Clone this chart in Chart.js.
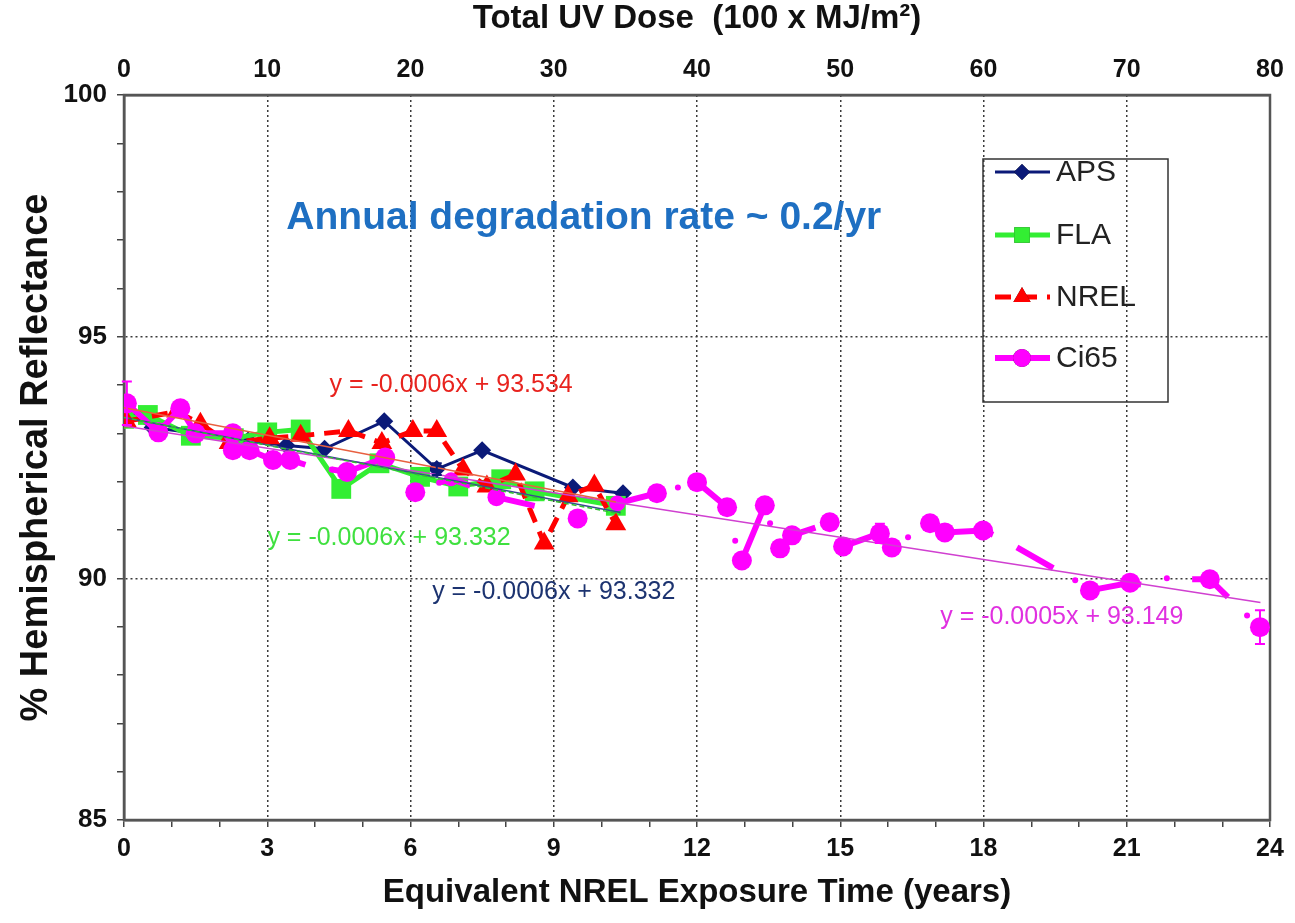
<!DOCTYPE html>
<html><head><meta charset="utf-8">
<script src="https://cdn.jsdelivr.net/npm/chart.js@4.4.1/dist/chart.umd.min.js"></script>
<style>html,body{margin:0;padding:0;background:#fff}</style>
</head><body>
<canvas id="c" width="1295" height="923"></canvas>
<script>
// ---- data (years, % reflectance) ----
const apsX = [0.06, 0.6, 1.5, 2.6, 3.4, 4.2, 5.45, 6.55, 7.5, 9.4, 10.45];
const apsY = [93.4, 93.12, 93.0, 92.85, 92.75, 92.68, 93.25, 92.26, 92.65, 91.88, 91.76];
const apsErr = [0, 0, 0, 0, 0, 0, 0, 0.12, 0, 0, 0];

const flaX = [0.0, 0.5, 1.4, 2.3, 3.0, 3.7, 4.55, 5.35, 6.2, 7.0, 7.9, 8.6, 10.3];
const flaY = [93.3, 93.38, 92.95, 92.9, 93.02, 93.08, 91.85, 92.38, 92.1, 91.9, 92.05, 91.8, 91.5];

const nrelX = [0.05, 1.1, 1.6, 2.2, 3.05, 3.7, 4.7, 5.4, 6.05, 6.55, 7.1, 7.6, 8.2, 8.8, 9.3, 9.85, 10.3];
const nrelY = [93.25, 93.45, 93.2, 92.8, 92.9, 92.95, 93.05, 92.8, 93.05, 93.05, 92.25, 91.9, 92.15, 90.72, 91.7, 91.92, 91.12];

const ci65X = [0.06,0.72,1.18,1.5,2.28,2.28,2.63,3.12,3.48,3.8, 3.9, 4.35,4.67,5.47, 5.8, 6.1, 6.3, 6.6,6.85,7.25, 7.5, 7.8,8.6, 9.0, 9.5, 9.9, 10.33,11.16, 11.4, 11.6, 11.8, 12.0,12.63, 12.7, 12.8, 12.87, 12.94,13.42, 13.48, 13.53, 13.6, 13.74,13.99,14.48, 14.6, 14.78, 14.9, 15.06,15.83,16.08, 16.3, 16.42, 16.6, 16.88,17.19,17.99,18.2, 18.4, 18.7,19.46, 19.7, 19.92, 20.0, 20.23,21.07,21.3, 21.6, 21.84, 22.0, 22.37,22.74,23.12, 23.3, 23.52, 23.6, 23.79];
const ci65Y = [93.62,93.02,93.52,93.0,93.0,92.65,92.65,92.45,92.45,92.35, null, 92.25,92.2,92.5, null, 91.78, null, 91.98,92.05,91.92, null, 91.68,91.5, null, 91.24, null, 91.55,91.76, null, 91.88, null, 91.99,91.47, null, 90.78, null, 90.37,91.51, null, 91.14, null, 90.62,90.89,91.05, null, 91.16, null, 90.66,90.93,90.64, null, 90.85, null, 91.14,90.95,90.99,90.9, null, 90.64,90.21, null, 89.96, null, 89.75,89.91,89.87, null, 90.0, null, 89.98,89.98,89.61, null, 89.23, null, 88.99];
const ci65Size = [10,10,10,10,10,10,10,10,10,0, 0, 3,10,10, 0, 10, 0, 3,7,0, 0, 9,0, 0, 10, 0, 8,10, 0, 3, 0, 10,10, 0, 3, 0, 10,10, 0, 3, 0, 10,10,0, 0, 10, 0, 10,10,10, 0, 3, 0, 10,10,10,0, 0, 0,0, 0, 3, 0, 10,10,0, 0, 3, 0, 0,10,0, 0, 3, 0, 10];
const ci65Err = [0.45,0,0,0,0,0,0,0.15,0.15,0, 0, 0,0,0, 0, 0, 0, 0,0,0, 0, 0,0, 0, 0, 0, 0,0, 0, 0, 0, 0,0, 0, 0, 0, 0,0, 0, 0, 0, 0.15,0,0, 0, 0, 0, 0,0.2,0, 0, 0, 0, 0.15,0,0,0, 0, 0,0, 0, 0, 0, 0,0,0, 0, 0, 0, 0,0,0, 0, 0, 0, 0.35];

// linear trend lines, endpoints
const trendNrelX = [0, 10.3];  const trendNrelY = [93.53, 91.58];
const trendFlaX  = [0, 10.4];  const trendFlaY  = [93.33, 91.33];
const trendApsX  = [0, 10.4];  const trendApsY  = [93.33, 91.36];
const trendCiX   = [0, 23.8];  const trendCiY   = [93.15, 89.5];

// tick labels
const yearTicks = [0, 3, 6, 9, 12, 15, 18, 21, 24];
const doseTicks = [0, 10, 20, 30, 40, 50, 60, 70, 80];
const reflTicks = [85, 90, 95, 100];

const seriesNames = ['APS', 'FLA', 'NREL', 'Ci65'];

const REG = "'Liberation Sans',Arial,sans-serif";
const annotations = [
  {text: 'Annual degradation rate ~ 0.2/yr', x: 9.63, y: 97.45, color: '#1e6fc2', font: "bold 39px " + REG},
  {text: 'y = -0.0006x + 93.534', x: 6.85, y: 93.99, color: '#e8231e', font: "25px " + REG},
  {text: 'y = -0.0006x + 93.332', x: 5.55, y: 90.83, color: '#3fe03f', font: "25px " + REG},
  {text: 'y = -0.0006x + 93.332', x: 9.0, y: 89.71, color: '#1c3370', font: "25px " + REG},
  {text: 'y = -0.0005x + 93.149', x: 19.64, y: 89.19, color: '#e030e0', font: "25px " + REG}
];

const pts = (xs, ys) => xs.map((x, i) => ({x: x, y: ys[i]}));

const errorBars = {
  id: 'errorBars',
  afterDatasetsDraw(chart) {
    const ctx = chart.ctx, ys = chart.scales.y;
    chart.data.datasets.forEach((ds, di) => {
      if (!ds.errors) return;
      const meta = chart.getDatasetMeta(di);
      ctx.save();
      ctx.strokeStyle = ds.borderColor; ctx.lineWidth = 2;
      meta.data.forEach((el, i) => {
        const e = ds.errors[i]; const v = ds.data[i].y;
        if (!e || v == null) return;
        const y1 = ys.getPixelForValue(v + e), y2 = ys.getPixelForValue(v - e);
        ctx.beginPath();
        ctx.moveTo(el.x, y1); ctx.lineTo(el.x, y2);
        ctx.moveTo(el.x - 5, y1); ctx.lineTo(el.x + 5, y1);
        ctx.moveTo(el.x - 5, y2); ctx.lineTo(el.x + 5, y2);
        ctx.stroke();
      });
      ctx.restore();
    });
  }
};

const frame = {
  id: 'frame',
  beforeDatasetsDraw(chart) {
    const {ctx, chartArea: a} = chart;
    ctx.save();
    ctx.strokeStyle = '#555'; ctx.lineWidth = 2.5;
    ctx.strokeRect(a.left, a.top, a.right - a.left, a.bottom - a.top);
    ctx.restore();
  }
};

const texts = {
  id: 'texts',
  afterDatasetsDraw(chart) {
    const ctx = chart.ctx, xs = chart.scales.x, ys = chart.scales.y;
    ctx.save();
    ctx.textAlign = 'center'; ctx.textBaseline = 'middle';
    annotations.forEach(a => {
      ctx.font = a.font; ctx.fillStyle = a.color;
      ctx.fillText(a.text, xs.getPixelForValue(a.x), ys.getPixelForValue(a.y));
    });
    ctx.restore();
  }
};

const legendBox = {
  id: 'legendBox',
  afterDatasetsDraw(chart) {
    const ctx = chart.ctx;
    const bx = 983, by = 159, bw = 185, bh = 243;
    ctx.save();
    ctx.strokeStyle = '#333'; ctx.lineWidth = 1.5;
    ctx.strokeRect(bx, by, bw, bh);
    const rows = [172, 235, 297, 358];
    seriesNames.forEach((name, i) => {
      const ds = chart.data.datasets.find(d => d.label === name);
      const y = rows[i];
      ctx.strokeStyle = ds.borderColor; ctx.lineWidth = ds.borderWidth;
      ctx.setLineDash(ds.borderDash || []);
      ctx.beginPath(); ctx.moveTo(995, y); ctx.lineTo(1050, y); ctx.stroke();
      ctx.setLineDash([]);
      Chart.helpers.drawPoint(ctx, {pointStyle: ds.pointStyle, radius: ds.legendRadius, borderWidth: 0, rotation: 0}, 1022, y);
      ctx.fillStyle = ds.backgroundColor; ctx.fill();
      ctx.fillStyle = '#222'; ctx.font = '30px ' + REG;
      ctx.textAlign = 'left'; ctx.textBaseline = 'middle';
      ctx.fillText(name, 1056, y + 1);
    });
    ctx.restore();
  }
};

const gridCol = '#3a3a3a';

new Chart(document.getElementById('c'), {
  type: 'line',
  data: {
    datasets: [
      {label: 'trendNREL', data: pts(trendNrelX, trendNrelY), borderColor: '#e86040', borderWidth: 1.5, pointRadius: 0, order: 0},
      {label: 'trendFLA', data: pts(trendFlaX, trendFlaY), borderColor: '#30c030', borderWidth: 1.5, borderDash: [5, 3], pointRadius: 0, order: 0},
      {label: 'trendAPS', data: pts(trendApsX, trendApsY), borderColor: '#3a4a90', borderWidth: 1.5, pointRadius: 0, order: 0},
      {label: 'trendCi65', data: pts(trendCiX, trendCiY), borderColor: '#d040d0', borderWidth: 1.5, pointRadius: 0, order: 0},
      {label: 'Ci65', data: pts(ci65X, ci65Y), errors: ci65Err, borderColor: '#ff00ff', backgroundColor: '#ff00ff',
        borderWidth: 6, pointStyle: 'circle', pointRadius: ci65Size, pointBorderWidth: 0, legendRadius: 9, spanGaps: false, order: 1},
      {label: 'NREL', data: pts(nrelX, nrelY), borderColor: '#ff0000', backgroundColor: '#ff0000',
        borderWidth: 5, borderDash: [16, 10], pointStyle: 'triangle', pointRadius: 12, pointBorderWidth: 0, legendRadius: 10, order: 2},
      {label: 'FLA', data: pts(flaX, flaY), borderColor: '#33ee33', backgroundColor: '#33ee33',
        borderWidth: 5, pointStyle: 'rect', pointRadius: 14, pointBorderWidth: 0, legendRadius: 11, order: 3},
      {label: 'APS', data: pts(apsX, apsY), errors: apsErr, borderColor: '#0b1a78', backgroundColor: '#0b1a78',
        borderWidth: 3, pointStyle: 'rectRot', pointRadius: 9, pointBorderWidth: 0, legendRadius: 8, order: 4}
    ]
  },
  options: {
    responsive: false, animation: false, devicePixelRatio: 1,
    layout: {padding: {left: 0, right: 25, top: 0, bottom: 0}},
    plugins: {legend: {display: false}, tooltip: {enabled: false}},
    elements: {line: {tension: 0}},
    scales: {
      x: {
        type: 'linear', position: 'bottom', min: 0, max: 24,
        afterBuildTicks: s => { s.ticks = Array.from({length: 25}, (_, i) => ({value: i})); },
        ticks: {autoSkip: false, maxRotation: 0, padding: 7, color: '#111',
          font: {family: REG, size: 25, weight: 'bold'},
          callback: v => yearTicks.includes(v) ? String(v) : ''},
        grid: {color: c => (c.tick && c.tick.value % 3 === 0 && c.tick.value > 0 && c.tick.value < 24) ? gridCol : 'rgba(0,0,0,0)',
          tickColor: '#444', tickLength: 7, lineWidth: 1.5},
        border: {display: true, color: '#555', width: 2.5, dash: [2, 3]},
        title: {display: true, text: 'Equivalent NREL Exposure Time (years)', color: '#111',
          font: {family: REG, size: 33, weight: 'bold', lineHeight: 1}, padding: {top: 0, bottom: 14}},
        afterFit: s => { s.height = 103; s.paddingLeft = 0; s.paddingRight = 0; }
      },
      x2: {
        type: 'linear', position: 'top', min: 0, max: 80,
        afterBuildTicks: s => { s.ticks = doseTicks.map(v => ({value: v})); },
        ticks: {autoSkip: false, maxRotation: 0, padding: 10, color: '#111',
          font: {family: REG, size: 25, weight: 'bold'}},
        grid: {display: false, drawTicks: false},
        border: {display: true, color: '#555', width: 2.5},
        title: {display: true, text: 'Total UV Dose  (100 x MJ/m²)', color: '#111',
          font: {family: REG, size: 33, weight: 'bold', lineHeight: 1}, padding: {top: 2, bottom: 0}},
        afterFit: s => { s.height = 95; s.paddingLeft = 0; s.paddingRight = 0; }
      },
      y: {
        type: 'linear', position: 'left', min: 85, max: 100,
        afterBuildTicks: s => { s.ticks = Array.from({length: 16}, (_, i) => ({value: 85 + i})); },
        ticks: {autoSkip: false, padding: 10, color: '#111',
          font: {family: REG, size: 26, weight: 'bold'},
          callback: v => reflTicks.includes(v) ? String(v) : ''},
        grid: {color: c => (c.tick && c.tick.value % 5 === 0 && c.tick.value > 85 && c.tick.value < 100) ? gridCol : 'rgba(0,0,0,0)',
          tickColor: '#444', tickLength: 7, lineWidth: 1.5},
        border: {display: true, color: '#555', width: 2.5, dash: [2, 3]},
        title: {display: true, text: '% Hemispherical Reflectance', color: '#111',
          font: {family: REG, size: 38, weight: 'bold', lineHeight: 1}, padding: {top: 18, bottom: 0}},
        afterFit: s => { s.width = 124; s.paddingTop = 0; s.paddingBottom = 0; }
      }
    }
  },
  plugins: [frame, errorBars, texts, legendBox]
});
</script>
</body></html>
